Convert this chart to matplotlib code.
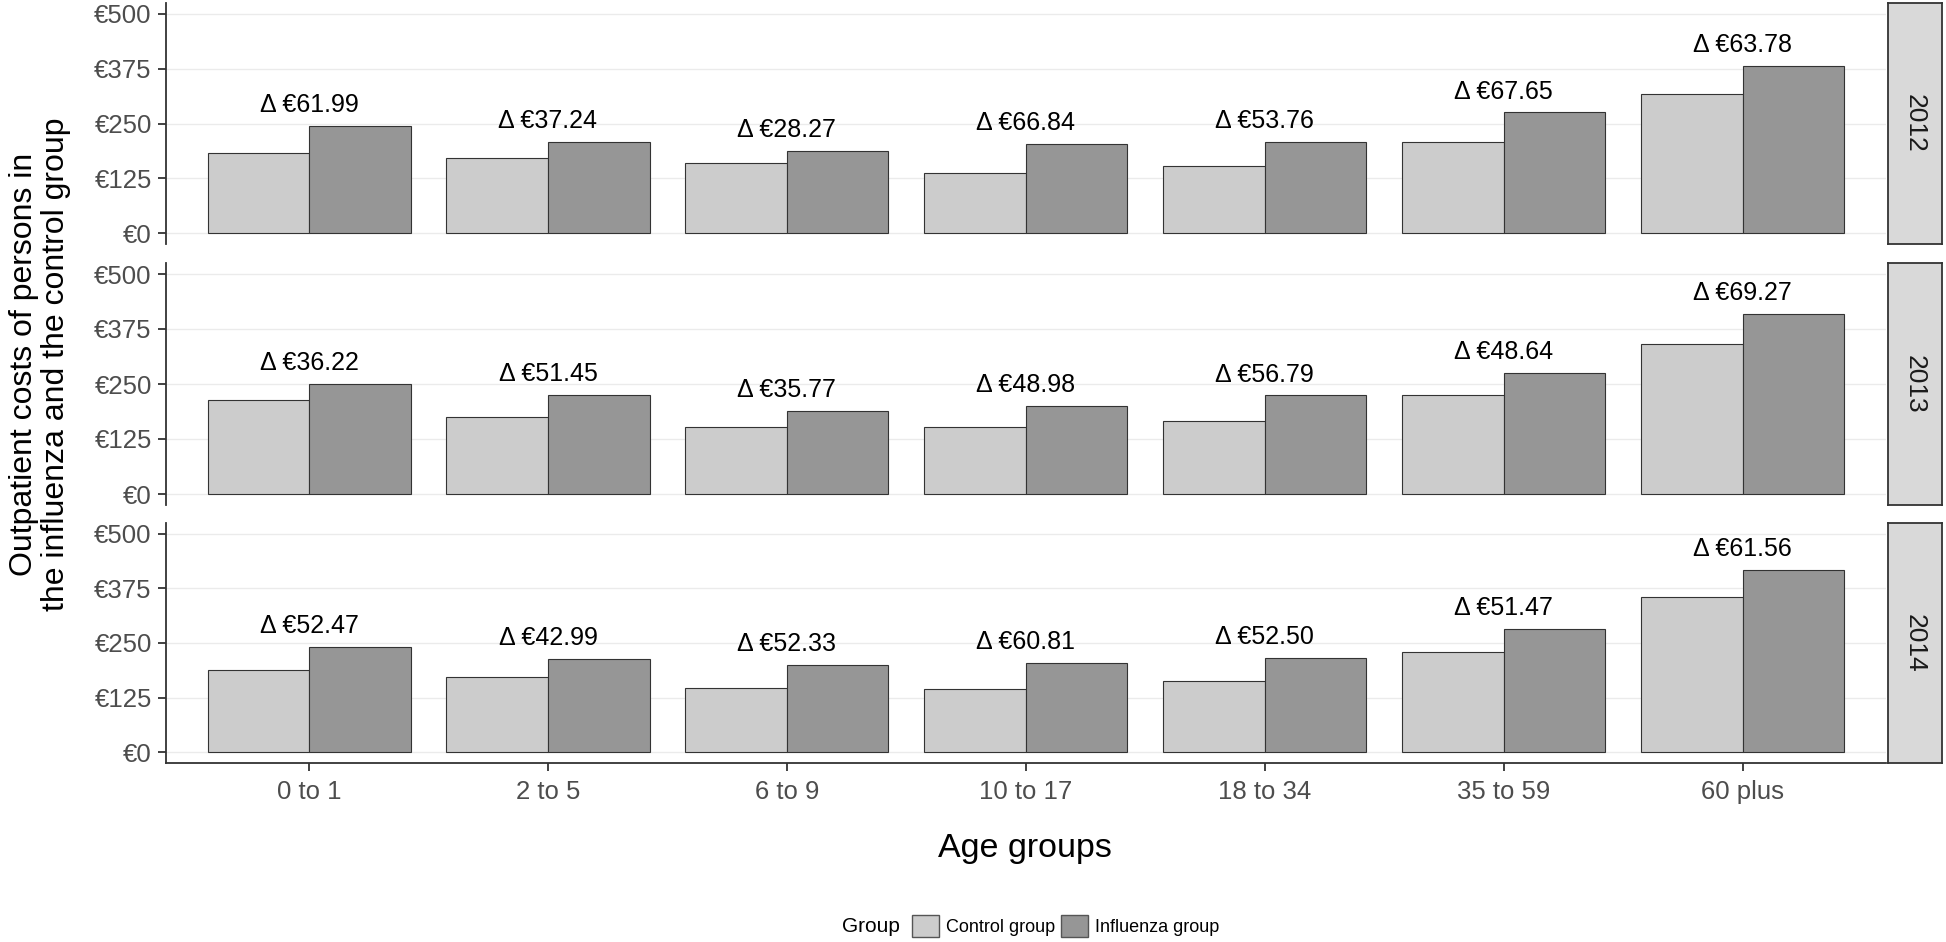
import numpy as np
import matplotlib
matplotlib.use('Agg')
import matplotlib.pyplot as plt
from matplotlib.patches import Patch

plt.rcParams['font.family'] = ['Liberation Sans', 'DejaVu Sans']

# data
age_groups = ['0 to 1', '2 to 5', '6 to 9', '10 to 17', '18 to 34', '35 to 59', '60 plus']
years = ['2012', '2013', '2014']

control_2012 = [182, 171, 159, 136.5, 154, 207.5, 317]
influenza_2012 = [244, 208.2, 187.3, 203.3, 207.8, 275.2, 381]
delta_2012 = [61.99, 37.24, 28.27, 66.84, 53.76, 67.65, 63.78]

control_2013 = [214, 175, 153, 152, 167, 226, 340]
influenza_2013 = [250, 226, 189, 201, 224, 275, 409]
delta_2013 = [36.22, 51.45, 35.77, 48.98, 56.79, 48.64, 69.27]

control_2014 = [188, 171, 148, 144, 164, 230, 356]
influenza_2014 = [240.5, 214, 200.3, 204.8, 216.5, 281.5, 417.6]
delta_2014 = [52.47, 42.99, 52.33, 60.81, 52.50, 51.47, 61.56]

y_ticks = [0, 125, 250, 375, 500]
y_ticklabels = ['€0', '€125', '€250', '€375', '€500']

control_col = '#CCCCCC'
influenza_col = '#969696'
edge_col = '#333333'
tick_col = '#4D4D4D'

panels = [
    (control_2012, influenza_2012, delta_2012),
    (control_2013, influenza_2013, delta_2013),
    (control_2014, influenza_2014, delta_2014),
]

W, H = 1946, 942
fig = plt.figure(figsize=(W / 100, H / 100), dpi=100)

ax_left = 165.7 / W
ax_width = (1886 - 165.7) / W
strip_left = 1888 / W
strip_width = (1942 - 1888) / W
# top / bottom pixel rows of the three panels
rows = [(3, 244), (263, 505), (523, 763)]

x = np.arange(len(age_groups))
bw = 0.425

for i, ((ctrl, infl, delta), (top, bot)) in enumerate(zip(panels, rows)):
    b = (H - bot) / H
    h = (bot - top) / H
    ax = fig.add_axes([ax_left, b, ax_width, h])
    ax.bar(x - bw / 2, ctrl, bw, color=control_col, edgecolor=edge_col, linewidth=0.8, zorder=3)
    ax.bar(x + bw / 2, infl, bw, color=influenza_col, edgecolor=edge_col, linewidth=0.8, zorder=3)
    for xi, yi, d in zip(x, infl, delta):
        ax.annotate(f'Δ €{d:.2f}', xy=(xi, yi), xytext=(0, 10), textcoords='offset points',
                    ha='center', va='baseline', fontsize=18, color='black')

    ax.set_xlim(-0.6, len(age_groups) - 0.4)
    ax.set_ylim(-25, 525)
    ax.set_yticks(y_ticks)
    ax.set_yticklabels(y_ticklabels)
    ax.grid(axis='y', color='#EBEBEB', linewidth=1.0, zorder=0)
    ax.set_axisbelow(True)
    for s in ['top', 'right']:
        ax.spines[s].set_visible(False)
    ax.spines['left'].set_color(edge_col)
    ax.spines['left'].set_linewidth(1.3)
    ax.tick_params(axis='y', length=6, width=1.3, color=edge_col, labelsize=18.5,
                   labelcolor=tick_col, pad=4)
    if i < 2:
        ax.spines['bottom'].set_visible(False)
        ax.set_xticks([])
    else:
        ax.spines['bottom'].set_color(edge_col)
        ax.spines['bottom'].set_linewidth(1.3)
        ax.set_xticks(x)
        ax.set_xticklabels(age_groups)
        ax.tick_params(axis='x', length=6, width=1.3, color=edge_col, labelsize=18.5,
                       labelcolor=tick_col, pad=6)

    # facet strip on the right
    sax = fig.add_axes([strip_left, b, strip_width, h])
    sax.set_facecolor('#D9D9D9')
    sax.set_xticks([])
    sax.set_yticks([])
    for s in sax.spines.values():
        s.set_color(edge_col)
        s.set_linewidth(1.3)
    sax.text(0.5, 0.5, years[i], rotation=270, ha='center', va='center',
             fontsize=19, color='#1A1A1A', transform=sax.transAxes)

fig.text(0.0205, 0.613, 'Outpatient costs of persons in\nthe influenza and the control group',
         rotation=90, ha='center', va='center', fontsize=23, linespacing=1.1)
fig.text(1025 / W, (H - 849) / H, 'Age groups', ha='center', va='center', fontsize=24.5)

# legend along the bottom
fig.text(842 / W, (H - 926) / H, 'Group', ha='left', va='center', fontsize=15)
handles = [Patch(facecolor=control_col, edgecolor='#555555', label='Control group'),
           Patch(facecolor=influenza_col, edgecolor='#555555', label='Influenza group')]
fig.legend(handles=handles, loc='center left', bbox_to_anchor=(912 / W, (H - 926) / H),
           ncol=2, frameon=False, fontsize=13, handlelength=1.5, handleheight=1.5,
           handletextpad=0.4, columnspacing=0.3, borderpad=0, borderaxespad=0)

fig.savefig('out.png', dpi=100)
